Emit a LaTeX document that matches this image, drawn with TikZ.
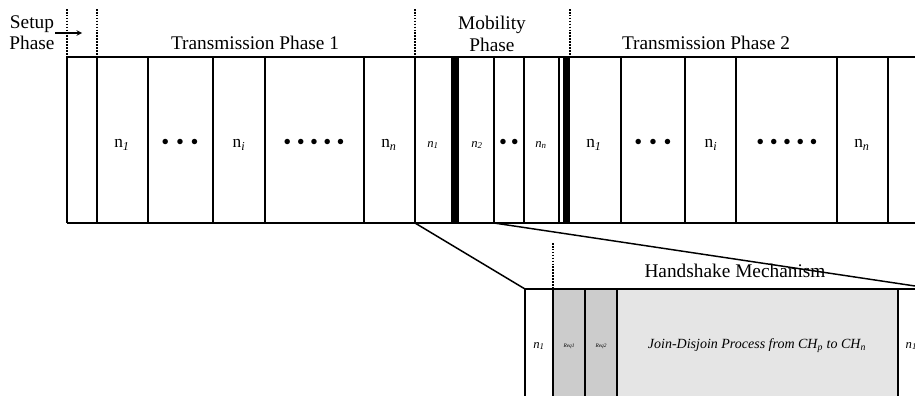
\documentclass[tikz,border=0pt]{standalone}
\usepackage{fontspec}
\setmainfont{Liberation Serif}
\begin{document}
\begin{tikzpicture}[x=0.75pt,y=-0.75pt,line width=1.1pt,
	phase/.style={font=\fontsize{14.5}{16}\selectfont,align=center,inner sep=0pt},
	zelle/.style={font=\fontsize{13}{15}\selectfont},
	punkte/.style={font=\fontsize{17}{18}\selectfont},
	klein/.style={font=\fontsize{9.5}{10}\selectfont},
	trenner/.style={densely dotted,line width=1.2pt}]
		\clip (0,0) rectangle (915,396);
		%%%% Phasen
		\foreach \x in {67,97,415,570} {
			\draw [trenner] (\x,9) -- (\x,57);
		}
		\node[phase] (setup) at (32,33) {Setup\\Phase};
		\coordinate (pfeilende) at (82,33);
		\draw [-stealth,line width=0.8pt] (setup.east) -- (pfeilende);
		\node[phase] (tp1) at (255,43) {Transmission Phase 1};
		\node[phase] (mob) at (492,34) {Mobility\\Phase};
		\node[phase] (tp2) at (706,43) {Transmission Phase 2};
		%%%% Zeitstrahl
		\draw (67,57) -- (915,57);
		\draw (67,223) -- (915,223);
		\foreach \x in {67,97,148,213,265,364,415,494,524,559,621,685,736,837,888} {
			\draw (\x,57) -- (\x,223);
		}
		% Balken
		\fill (451,57) rectangle (459,223);
		\fill (563,57) rectangle (570,223);
		% Transmission Phase 1
		\node[zelle] (a1) at (122,145) {n\textsubscript{\itshape 1}};
		\node[punkte] (a2) at (180,144) {\textbullet\hspace{5pt}\textbullet\hspace{5pt}\textbullet};
		\node[zelle] (a3) at (239,145) {n\textsubscript{\itshape i}};
		\node[punkte] (a4) at (314,144) {\textbullet\hspace{4pt}\textbullet\hspace{4pt}\textbullet\hspace{4pt}\textbullet\hspace{4pt}\textbullet};
		\node[zelle] (a5) at (389,145) {n\textsubscript{\itshape n}};
		% Mobility Phase
		\node[klein] (m1) at (433,145) {\textit{n}\textsubscript{\itshape 1}};
		\node[klein] (m2) at (477,145) {\textit{n}\textsubscript{\itshape 2}};
		\node[punkte] (m3) at (509,144) {\textbullet\hspace{3pt}\textbullet};
		\node[klein] (m4) at (541,145) {\textit{n}\textsubscript{\itshape n}};
		% Transmission Phase 2
		\node[zelle] (b1) at (594,145) {n\textsubscript{\itshape 1}};
		\node[punkte] (b2) at (653,144) {\textbullet\hspace{5pt}\textbullet\hspace{5pt}\textbullet};
		\node[zelle] (b3) at (711,145) {n\textsubscript{\itshape i}};
		\node[punkte] (b4) at (787,144) {\textbullet\hspace{4pt}\textbullet\hspace{4pt}\textbullet\hspace{4pt}\textbullet\hspace{4pt}\textbullet};
		\node[zelle] (b5) at (862,145) {n\textsubscript{\itshape n}};
		%%%% Handshake
		\fill[gray!40] (553,289) rectangle (617,400);
		\fill[gray!20] (617,289) rectangle (898,400);
		\draw (525,289) -- (915,289);
		\foreach \x in {525,553,585,617,898} {
			\draw (\x,289) -- (\x,400);
		}
		\draw [trenner] (553,243) -- (553,289);
		\node[phase] (hs) at (735,271) {Handshake Mechanism};
		\node[klein] (h1) at (539,346) {\textit{n}\textsubscript{\itshape 1}};
		\node[font=\fontsize{4}{5}\selectfont\itshape] (req1) at (569,346) {Req1};
		\node[font=\fontsize{4}{5}\selectfont\itshape] (req2) at (601,346) {Req2};
		\node[font=\fontsize{10.5}{12}\selectfont\itshape] (jd) at (757,346) {Join-Disjoin Process from CH\textsubscript{p} to CH\textsubscript{n}};
		\node[klein,anchor=west,inner sep=0pt] (h2) at (905,346) {\textit{n}\textsubscript{\itshape 1}};
		% Zoom-Linien
		\coordinate (z1) at (415,223);
		\coordinate (z2) at (494,223);
		\coordinate (z3) at (525,289);
		\coordinate (z4) at (915,286);
		\draw (z1) -- (z3);
		\draw (z2) -- (z4);
\end{tikzpicture}
\end{document}
